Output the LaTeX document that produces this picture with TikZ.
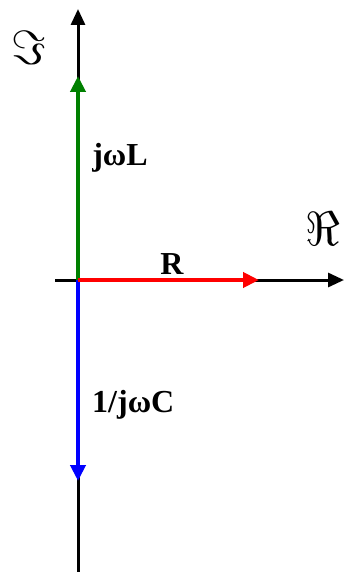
\documentclass[tikz,border=0pt]{standalone}
\usepackage{fontspec}
\setmainfont{Liberation Serif}
\usetikzlibrary{arrows.meta}
\definecolor{dgreen}{RGB}{0,128,0}
\definecolor{rred}{RGB}{255,0,0}
\definecolor{bblue}{RGB}{0,0,255}
\tikzset{
  axis/.style={line width=3pt,-{Triangle[length=16pt,width=14pt]}},
  phasor/.style={line width=4.5pt,-{Triangle[length=16pt,width=15pt]}},
  lbl/.style={font=\fontsize{32}{32}\selectfont\bfseries,inner sep=0pt},
  axlbl/.style={inner sep=0pt,scale=4.8}
}
\begin{document}
\begin{tikzpicture}[x=1pt,y=1pt]
\useasboundingbox (0,0) rectangle (344,-572);
\coordinate (O) at (78,-280);
\coordinate (ybot) at (78,-572);
\coordinate (ytop) at (78,-9);
\coordinate (xl) at (55,-280);
\coordinate (xr) at (344,-280);
\coordinate (L) at (78,-76);
\coordinate (R) at (259,-280);
\coordinate (C) at (78,-481);
\draw[axis] (ybot) -- (ytop);
\draw[axis] (xl) -- (xr);
\draw[phasor,dgreen] (O) -- (L);
\draw[phasor,bblue] (O) -- (C);
\draw[phasor,rred] (O) -- (R);
\node[axlbl] (im) at (29,-48) {$\Im$};
\node[axlbl] (re) at (323,-229) {$\Re$};
\node[lbl,anchor=base] (tL) at (120,-165) {jωL};
\node[lbl,anchor=base] (tR) at (172,-274) {R};
\node[lbl,anchor=base west] (tC) at (92,-412) {1/jωC};
\end{tikzpicture}
\end{document}
